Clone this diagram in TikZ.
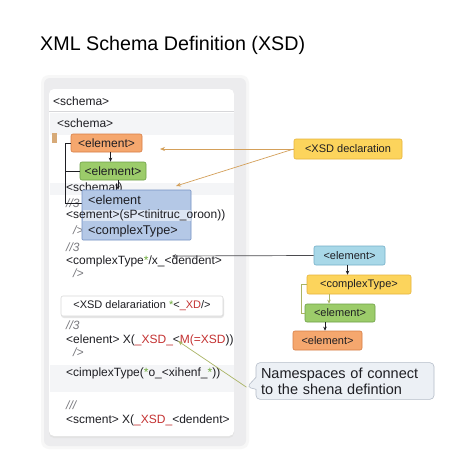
\documentclass[tikz,border=0pt]{standalone}
\usepackage{fontspec}
\setmainfont{Liberation Sans}
\usepackage{xcolor}
\usepackage{tikz}
\usetikzlibrary{arrows.meta, positioning, calc, shapes.callouts}
\definecolor{xsdred}{RGB}{196,50,50}
\definecolor{xsdstar}{RGB}{110,170,60}
\definecolor{xsddark}{RGB}{30,30,35}
\definecolor{xsdgray}{RGB}{120,120,125}
\definecolor{panelgray}{RGB}{236,236,238}
\definecolor{rowgray}{RGB}{244,245,247}
\definecolor{sepgray}{RGB}{215,215,218}
\definecolor{orfill}{RGB}{245,167,110}
\definecolor{ordraw}{RGB}{215,125,70}
\definecolor{grfill}{RGB}{156,204,106}
\definecolor{grdraw}{RGB}{110,160,70}
\definecolor{blfill}{RGB}{180,200,230}
\definecolor{bldraw}{RGB}{115,145,195}
\definecolor{yefill}{RGB}{252,212,92}
\definecolor{yedraw}{RGB}{230,180,60}
\definecolor{cyfill}{RGB}{168,216,232}
\definecolor{cydraw}{RGB}{115,175,200}
\definecolor{notefill}{RGB}{236,240,245}
\definecolor{notedraw}{RGB}{180,188,200}
\definecolor{tanline}{RGB}{212,160,90}
\definecolor{oliveline}{RGB}{170,180,100}
\definecolor{tanmark}{RGB}{215,170,120}
\newcommand{\redpart}[1]{\textcolor{xsdred}{#1}}
\newcommand{\starpart}{\textcolor{xsdstar}{*}}
\tikzset{
  title/.style={anchor=west, inner sep=0, font=\fontsize{19.7}{22}\selectfont, color=black},
  code/.style={anchor=west, inner sep=0, font=\fontsize{12}{14}\selectfont, color=xsddark},
  comment/.style={anchor=west, inner sep=0, font=\fontsize{12}{14}\selectfont\itshape, color=xsdgray},
  tagbox/.style={rectangle, rounded corners=2pt, inner sep=0,
    font=\fontsize{11}{13}\selectfont, line width=0.6pt, text=xsddark},
  cardbox/.style={tagbox, font=\fontsize{12}{14}\selectfont},
  orangebox/.style={tagbox, draw=ordraw, fill=orfill},
  greenbox/.style={tagbox, draw=grdraw, fill=grfill},
  bluebox/.style={tagbox, draw=bldraw, fill=blfill, rounded corners=1pt},
  bluetext/.style={anchor=west, inner sep=0, font=\fontsize{12.7}{15}\selectfont, color=xsddark},
  yellowbox/.style={tagbox, draw=yedraw, fill=yefill},
  cyanbox/.style={tagbox, draw=cydraw, fill=cyfill},
  notebox/.style={rectangle callout, rounded corners=4pt, draw=notedraw, fill=notefill,
    line width=0.6pt, text width=168pt, align=left, inner sep=5pt,
    font=\fontsize{14.5}{16}\selectfont, text=xsddark, callout pointer width=12pt},
  arrow/.style={-{Stealth[length=4pt, width=3.5pt]}, line width=0.7pt, color=xsddark},
  tanarrow/.style={-{Stealth[length=5pt, width=4pt]}, line width=0.7pt, color=tanline},
  olivearrow/.style={-{Stealth[length=5pt, width=4pt]}, line width=0.7pt, color=oliveline},
  line/.style={line width=0.8pt, color=xsddark}
}

\begin{document}
\begin{tikzpicture}[x=1pt, y=-1pt]
  \useasboundingbox[fill=white] (0,0) rectangle (474,474);

  % Title
  \node[title] (title) at (40,45) {XML Schema Definition (XSD)};

  % Panel and card
  \fill[gray!6, rounded corners=8pt] (41,75) rectangle (249,449);
  \fill[panelgray, rounded corners=6pt] (44,78) rectangle (246,446);
  \fill[gray!22, rounded corners=5pt] (49,90) rectangle (234,438);
  \fill[white, rounded corners=5pt] (49,89) rectangle (234,436);
  \node[code] (hdr) at (53,101) {<schema>};
  \draw[sepgray, line width=0.7pt] (49,111) -- (234,111);

  % Row bands
  \fill[rowgray] (50,113) rectangle (234,135);
  \fill[rowgray] (50,183) rectangle (234,195);
  \fill[rowgray] (50,365) rectangle (234,392);
  \fill[tanmark] (52,133) rectangle (57,143);

  % Code lines
  \node[code] (sch) at (57,123) {<schema>};
  \node[code] (sch2) at (66,188) {<schemat)};
  \node[comment] (c1) at (66,203) {//3};
  \node[comment] (c2) at (73,230) {/>};
  \node[comment] (c3) at (66,247) {//3};
  \node[code] (ln1) at (66,261) {<complexType\starpart/x\_<dendent>};
  \node[comment] (c4) at (73,273) {/>};
  \node[comment] (c5) at (66,325) {//3};
  \node[code] (ln2) at (66,340) {<elenent> X(\redpart{\_XSD\_}<\redpart{M(=XSD}))};
  \node[comment] (c6) at (73,352) {/>};
  \node[code] (ln3) at (66,373) {<cimplexType(\starpart o\_<xihenf\_\starpart))};
  \node[comment] (c7) at (66,405) {///};
  \node[code] (ln4) at (66,420) {<scment> X(\redpart{\_XSD\_}<dendent>};

  % Declaration strip
  \fill[gray!20, rounded corners=3pt] (61,297) rectangle (224,318);
  \node[tagbox, draw=gray!30, fill=white, minimum width=162, minimum height=20] (declline) at (142,306)
    {<XSD delarariation \starpart<\redpart{\_XD}/>};

  % Tag boxes in the card
  \node[orangebox, cardbox, minimum width=71, minimum height=18] (el1) at (106.5,143) {<element>};
  \node[greenbox, cardbox, minimum width=66, minimum height=18] (el2) at (113,171) {<element>};
  \draw[line] (el1.west) -- ++(-5,0) coordinate (brk) -- ++(0,60) -- ++(16,0);
  \draw[line] (el2.west) -- (el2.west -| brk);
  \draw[arrow] ([xshift=4pt]el1.south) -- ([xshift=4pt]el1.south |- el2.north);
  \node[bluebox, minimum width=109, minimum height=50] (bl) at (136.5,215) {};
  \fill[white, opacity=0.55] (82.5,210) rectangle (190.5,221);
  \node[bluetext] (blt) at (88,200) {<element};
  \node[bluetext] (blb) at (88,231) {<complexType>};
  \draw[arrow] ([xshift=5pt]el2.south) -- ([xshift=5pt]el2.south |- bl.north);
  \node[code] (ln0) at (66,215.5) {<sement>(sP<tinitruc\_oroon))};

  % Right side tree
  \node[yellowbox, minimum width=108, minimum height=20] (decl) at (348,149) {<XSD declaration};
  \node[cyanbox, minimum width=71, minimum height=19] (cy) at (349.5,255.5) {<element>};
  \node[yellowbox, minimum width=104, minimum height=19] (ct) at (359,284.5) {<complexType>};
  \node[greenbox, minimum width=70, minimum height=18] (gr) at (340,313) {<element>};
  \node[orangebox, minimum width=69, minimum height=19] (or) at (327.5,340.5) {<element>};
  \draw[arrow] ([xshift=-2pt]cy.south) -- ([xshift=-2pt]cy.south |- ct.north);
  \draw[olivearrow, -{Stealth[length=4pt, width=3.5pt]}] ([xshift=-30pt]ct.south) -- ([xshift=-30pt]ct.south |- gr.north);
  \draw[oliveline, line width=0.8pt] (ct.west) -- ++(-5,0) |- (gr.west);
  \draw[arrow] ([xshift=-15pt]gr.south) -- ([xshift=-15pt]gr.south |- or.north);

  % Pointers into the card
  \coordinate (tip1) at (160,149);
  \coordinate (tip2) at (176,186);
  \coordinate (tip3) at (172,256);
  \coordinate (tip4) at (178,341);
  \draw[tanarrow] (decl.west) -- (tip1);
  \draw[tanarrow] (decl.west) -- (tip2);
  \draw[arrow, color=xsddark!80] (cy.west) -- (tip3);

  % Note
  \node[notebox, callout absolute pointer={(247,387)}] (note) at (345,381)
    {Namespaces of connect\\to the shena defintion};
  \draw[olivearrow] (note.pointer) -- (tip4);
\end{tikzpicture}
\end{document}
